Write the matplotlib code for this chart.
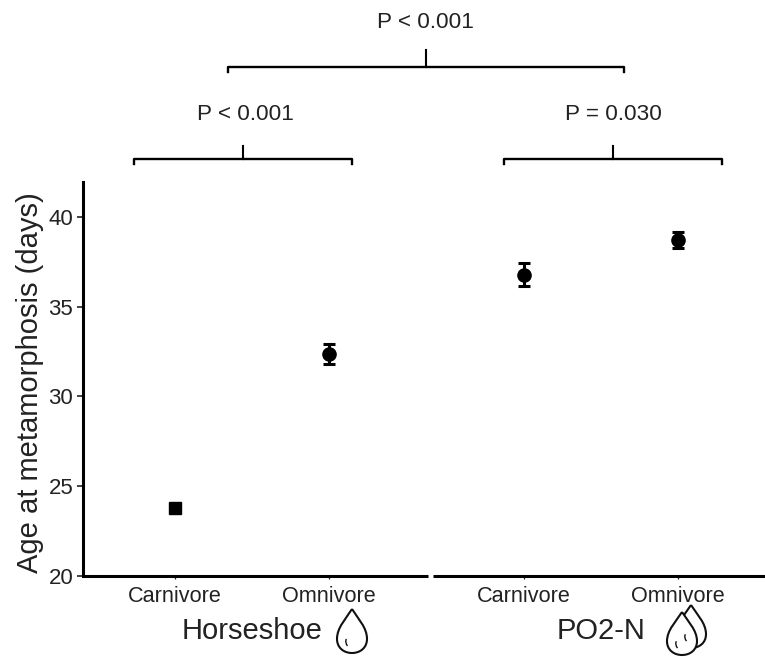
import matplotlib
matplotlib.use('Agg')
import matplotlib.pyplot as plt
from matplotlib.patches import PathPatch
from matplotlib.path import Path

plt.rcParams['font.family'] = ['Liberation Sans', 'DejaVu Sans']

# data
groups = ['Horseshoe', 'PO2-N']
diets = ['Carnivore', 'Omnivore']
horseshoe_mean = [23.75, 32.35]
horseshoe_err = [0.3, 0.55]
po2n_mean = [36.8, 38.75]
po2n_err = [0.65, 0.45]
y_ticks = [20, 25, 30, 35, 40]
p_labels = ['P < 0.001', 'P < 0.001', 'P = 0.030']

W, H = 765, 657
fig = plt.figure(figsize=(W / 100, H / 100), dpi=100)


def make_axes(left, right):
    # pixel box -> figure fractions
    return fig.add_axes([left / W, 1 - 575.5 / H, (right - left) / W, (575.5 - 181.5) / H])


ax1 = make_axes(83, 428)
ax2 = make_axes(433, 765)

for ax, means, errs in [(ax1, horseshoe_mean, horseshoe_err), (ax2, po2n_mean, po2n_err)]:
    for i in range(2):
        # the error bar is so short on the first point that it reads as a block
        short = errs[i] < 0.4
        ax.errorbar(i + 1, means[i], yerr=errs[i], fmt='s' if short else 'o', color='black',
                    ms=8.5 if short else 9.5, elinewidth=2.2,
                    capsize=0 if short else 4.5, capthick=2.2)
    ax.set_ylim(20, 42)
    ax.set_xticks([1, 2])
    ax.set_xticklabels(diets)
    ax.tick_params(axis='x', labelsize=15.6, length=2.5, width=0.9, pad=5, colors='#222222')
    ax.spines['top'].set_visible(False)
    ax.spines['right'].set_visible(False)
    ax.spines['bottom'].set_linewidth(2.2)
    ax.spines['left'].set_linewidth(2.2)
    ax.spines['bottom'].set_capstyle('butt')

ax1.set_xlim(1 - 92 / 154, 1 + 253 / 154)
ax2.set_xlim(1 - 91 / 154, 1 + 241 / 154)
ax1.set_yticks(y_ticks)
ax1.tick_params(axis='y', labelsize=16, length=4, width=1.2, pad=3, colors='#222222')
ax1.set_ylabel('Age at metamorphosis (days)', fontsize=21, color='#222222', labelpad=3, y=0.49)
ax2.spines['left'].set_visible(False)
ax2.set_yticks([])

# overlay in pixel coordinates for brackets, p values, group names and icons
ov = fig.add_axes([0, 0, 1, 1])
ov.set_xlim(0, W)
ov.set_ylim(H, 0)
ov.axis('off')
ov.patch.set_alpha(0)


def bracket(x0, x1, y, tick_top, tick_x, label, label_y, label_x):
    ov.plot([x0, x0, x1, x1], [y + 5, y, y, y + 5], color='black', lw=1.7, solid_joinstyle='round')
    ov.plot([tick_x, tick_x], [y, tick_top], color='black', lw=1.5)
    ov.text(label_x, label_y, label, fontsize=16.2, ha='center', va='center', color='#222222')


bracket(228, 624, 67, 50, 426, p_labels[0], 22, 425)
bracket(134, 352, 159, 146, 243, p_labels[1], 115, 245)
bracket(504, 722, 159, 146, 613, p_labels[2], 115, 613)

ov.text(252, 631, groups[0], fontsize=21, ha='center', va='center', color='#222222')
ov.text(601, 631, groups[1], fontsize=21, ha='center', va='center', color='#222222')


def drop(cx, top, w, h):
    # water drop outline with a small highlight stroke
    bottom = top + h
    r = w / 2
    verts = [(cx, top),
             (cx + 0.4 * r, top + 0.22 * h), (cx + r, top + 0.42 * h), (cx + r, top + 0.68 * h),
             (cx + r, top + 0.88 * h), (cx + 0.55 * r, bottom), (cx, bottom),
             (cx - 0.55 * r, bottom), (cx - r, top + 0.88 * h), (cx - r, top + 0.68 * h),
             (cx - r, top + 0.42 * h), (cx - 0.4 * r, top + 0.22 * h), (cx, top)]
    codes = [Path.MOVETO] + [Path.CURVE4] * 12
    ov.add_patch(PathPatch(Path(verts, codes), fc='white', ec='#111111', lw=1.5, zorder=3))
    hl = Path([(cx - 0.38 * r, top + 0.68 * h), (cx - 0.48 * r, top + 0.76 * h), (cx - 0.3 * r, top + 0.84 * h)],
              [Path.MOVETO, Path.CURVE3, Path.CURVE3])
    ov.add_patch(PathPatch(hl, fc='none', ec='#111111', lw=1.0, zorder=4))


drop(352, 609, 30, 44)
drop(691, 605, 30, 43)
drop(682, 612, 30, 43)

fig.savefig('out.png', dpi=100)
